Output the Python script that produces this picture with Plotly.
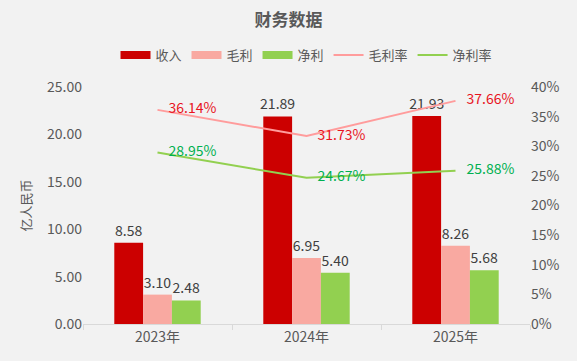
import plotly.graph_objects as go

categories = ["2023年", "2024年", "2025年"]
revenue = [8.58, 21.89, 21.93]
gross_profit = [3.10, 6.95, 8.26]
net_profit = [2.48, 5.40, 5.68]
gross_margin = [0.3614, 0.3173, 0.3766]
net_margin = [0.2895, 0.2467, 0.2588]

left_ticks = [0, 5, 10, 15, 20, 25]
right_ticks = [0, 0.05, 0.10, 0.15, 0.20, 0.25, 0.30, 0.35, 0.40]

FONT = "Noto Sans CJK SC, Microsoft YaHei, sans-serif"
GREY = "#595959"
C_REV, C_GP, C_NP = "#CC0000", "#F9A9A1", "#92D050"

fig = go.Figure()

def bar(name, vals, color):
    fig.add_trace(go.Bar(
        name=name, x=categories, y=vals, marker_color=color,
        marker_line_width=0, showlegend=False,
        text=[f"{v:.2f}" for v in vals], textposition="outside",
        textfont=dict(size=14, color="#404040", family=FONT),
        constraintext="none", cliponaxis=False,
    ))

bar("收入", revenue, C_REV)
bar("毛利", gross_profit, C_GP)
bar("净利", net_profit, C_NP)

# legend swatches for the bar series (wide rectangles as in the reference)
for name, color in [("收入", C_REV), ("毛利", C_GP), ("净利", C_NP)]:
    fig.add_trace(go.Scatter(name=name, x=[None], y=[None], mode="lines",
                             line=dict(color=color, width=8), hoverinfo="skip"))

def line(name, vals, color, tcolor):
    fig.add_trace(go.Scatter(
        name=name, x=categories, y=vals, yaxis="y2", mode="lines+markers+text",
        line=dict(color=color, width=2),
        marker=dict(size=16, color="rgba(0,0,0,0)", line=dict(width=0)),
        text=[f"{v*100:.2f}%" for v in vals], textposition="middle right",
        textfont=dict(size=14, color=tcolor, family=FONT),
        cliponaxis=False,
    ))

line("毛利率", gross_margin, "#FF9C9C", "#E8141E")
line("净利率", net_margin, "#92D050", "#00B050")

fig.update_layout(
    width=577, height=361,
    margin=dict(l=83, r=47, t=87, b=37, autoexpand=False),
    paper_bgcolor="#F2F2F2", plot_bgcolor="#F2F2F2",
    font=dict(family=FONT, color=GREY, size=13),
    title=dict(text="<b>财务数据</b>", x=0.5, xanchor="center", y=0.945, yanchor="middle",
               font=dict(size=17, color=GREY, family=FONT)),
    barmode="group", bargap=0.42, bargroupgap=0,
    showlegend=True,
    legend=dict(orientation="h", x=0.5, xanchor="center", y=1.135, yanchor="middle",
                font=dict(size=13, color=GREY), bgcolor="rgba(0,0,0,0)",
                itemwidth=30, tracegroupgap=0),
    xaxis=dict(type="category", showgrid=False, showline=True, linecolor="#D9D9D9",
               ticks="outside", tickson="boundaries", ticklen=5, tickcolor="#D9D9D9",
               tickfont=dict(size=14, color=GREY)),
    yaxis=dict(range=[0, 25], tickvals=left_ticks, tickformat=".2f", showgrid=False,
               zeroline=False, showline=False, tickfont=dict(size=14, color=GREY),
               title=dict(text="亿人民币", font=dict(size=13, color=GREY), standoff=12)),
    yaxis2=dict(range=[0, 0.40], tickvals=right_ticks, tickformat=".0%", overlaying="y",
                side="right", showgrid=False, zeroline=False, showline=False,
                tickfont=dict(size=14, color=GREY)),
)

fig.write_html("out.html", config={"displayModeBar": False},
               post_script="document.body.style.margin='0';")
